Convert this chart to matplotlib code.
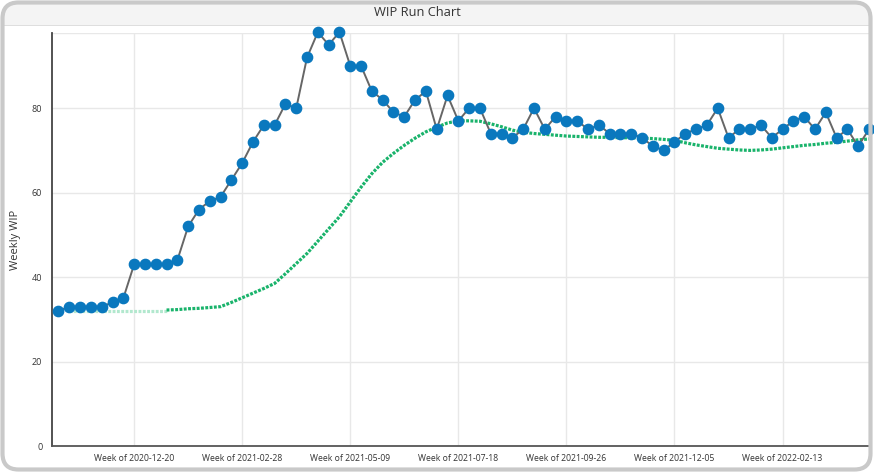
import matplotlib
matplotlib.use('Agg')
import matplotlib.pyplot as plt
from matplotlib.patches import FancyBboxPatch, Rectangle
from matplotlib.transforms import IdentityTransform
import pandas as pd

plt.rcParams['font.family'] = ['Open Sans', 'DejaVu Sans']

# ---- data ----
weeks = [f"Week of {d.strftime('%Y-%m-%d')}" for d in pd.date_range('2020-11-01', periods=76, freq='7D')]
wip = [32, 33, 33, 33, 33, 34, 35, 43, 43, 43, 43, 44, 52, 56, 58, 59, 63, 67, 72, 76,
       76, 81, 80, 92, 98, 95, 98, 90, 90, 84, 82, 79, 78, 82, 84, 75, 83, 77, 80, 80,
       74, 74, 73, 75, 80, 75, 78, 77, 77, 75, 76, 74, 74, 74, 73, 71, 70, 72, 74, 75,
       76, 80, 73, 75, 75, 76, 73, 75, 77, 78, 75, 79, 73, 75, 71, 75]
baseline_weeks = weeks[1:11]
baseline = [32, 32, 32, 32, 32, 32, 32, 32, 32, 32]
trend_weeks = weeks[10:76]
trend = [32.2, 32.3, 32.5, 32.6, 32.8, 33.0, 34.0, 35.1, 36.2, 37.3,
         38.5, 40.8, 43.2, 45.6, 48.5, 51.4, 54.3, 57.8, 61.3, 64.5,
         67.2, 69.3, 71.2, 72.9, 74.4, 75.5, 76.5, 77.0, 77.0, 76.9,
         76.3, 75.6, 74.8, 74.3, 74.0, 73.8, 73.6, 73.4, 73.3, 73.2,
         73.1, 73.1, 73.0, 73.0, 72.9, 72.8, 72.6, 72.4, 71.8, 71.3,
         70.9, 70.5, 70.3, 70.1, 70.0, 70.1, 70.3, 70.6, 70.9, 71.2,
         71.4, 71.7, 71.9, 72.2, 72.5, 72.7]
yticks = [0, 20, 40, 60, 80]

# ---- figure ----
W, H = 874, 473
fig = plt.figure(figsize=(W / 100, H / 100), dpi=100)
fig.patch.set_facecolor('white')

frame = FancyBboxPatch((2.5, 3.5), 868, 467, boxstyle="round,pad=0,rounding_size=16",
                       transform=IdentityTransform(), facecolor='white',
                       edgecolor='none', linewidth=0, zorder=-3)
fig.patches.append(frame)
titlebar = Rectangle((2.5, H - 25), 868, 25, transform=IdentityTransform(),
                     facecolor='#f4f4f4', edgecolor='none', zorder=-2)
titlebar.set_clip_path(frame)
fig.patches.append(titlebar)
sep = Rectangle((3, H - 26), 867, 1.2, transform=IdentityTransform(),
                facecolor='#dedede', edgecolor='none', zorder=-1)
fig.patches.append(sep)
frame2 = FancyBboxPatch((2.5, 3.5), 868, 467, boxstyle="round,pad=0,rounding_size=16",
                        transform=IdentityTransform(), facecolor='none',
                        edgecolor='#c9c9c9', linewidth=3, zorder=5)
fig.patches.append(frame2)

fig.text(417 / W, 1 - 12 / H, 'WIP Run Chart', ha='center', va='center',
         fontsize=9.3, color='#333333')

ax = fig.add_axes([52 / W, (H - 446) / H, (869 - 52) / W, (446 - 33) / H])
ax.set_facecolor('none')
x = list(range(len(weeks)))
pos = {w: i for i, w in enumerate(weeks)}

ax.plot([pos[w] for w in baseline_weeks], baseline, color='#b2e8ce',
        linewidth=2.3, linestyle=(0, (0.9, 0.45)), zorder=2)
ax.plot([pos[w] for w in trend_weeks], trend, color='#19b36b',
        linewidth=2.3, linestyle=(0, (0.9, 0.45)), zorder=2)
ax.plot(x, wip, color='#666666', linewidth=1.4, zorder=3,
        marker='o', markersize=7.4, markerfacecolor='#0a78be',
        markeredgecolor='#0a78be', clip_on=False)

ax.set_xlim(-0.6, 75.0)
ax.set_ylim(0, 97.8)
tick_pos = list(range(7, 76, 10))
ax.set_xticks(tick_pos)
ax.set_xticklabels([weeks[i] for i in tick_pos], fontsize=6.2, color='#333333')
ax.set_yticks(yticks)
ax.set_yticklabels([str(v) for v in yticks], fontsize=6.5, color='#333333')
ax.tick_params(axis='y', length=0, pad=7)
ax.tick_params(axis='x', length=0, pad=6)
ax.grid(True, color='#e8e8e8', linewidth=1)
ax.set_axisbelow(True)
for s in ['top', 'right']:
    ax.spines[s].set_visible(False)
ax.spines['left'].set_color('#444444')
ax.spines['left'].set_linewidth(1.3)
ax.spines['bottom'].set_color('#555555')
ax.spines['bottom'].set_linewidth(1.3)
ax.axhline(97.8, color='#e8e8e8', linewidth=1, zorder=0)
ax.set_ylabel('Weekly WIP', fontsize=8, color='#333333', va='center')
ax.yaxis.set_label_coords(-(52 - 16) / (869 - 52), 0.5)

fig.savefig('out.png', dpi=100)
